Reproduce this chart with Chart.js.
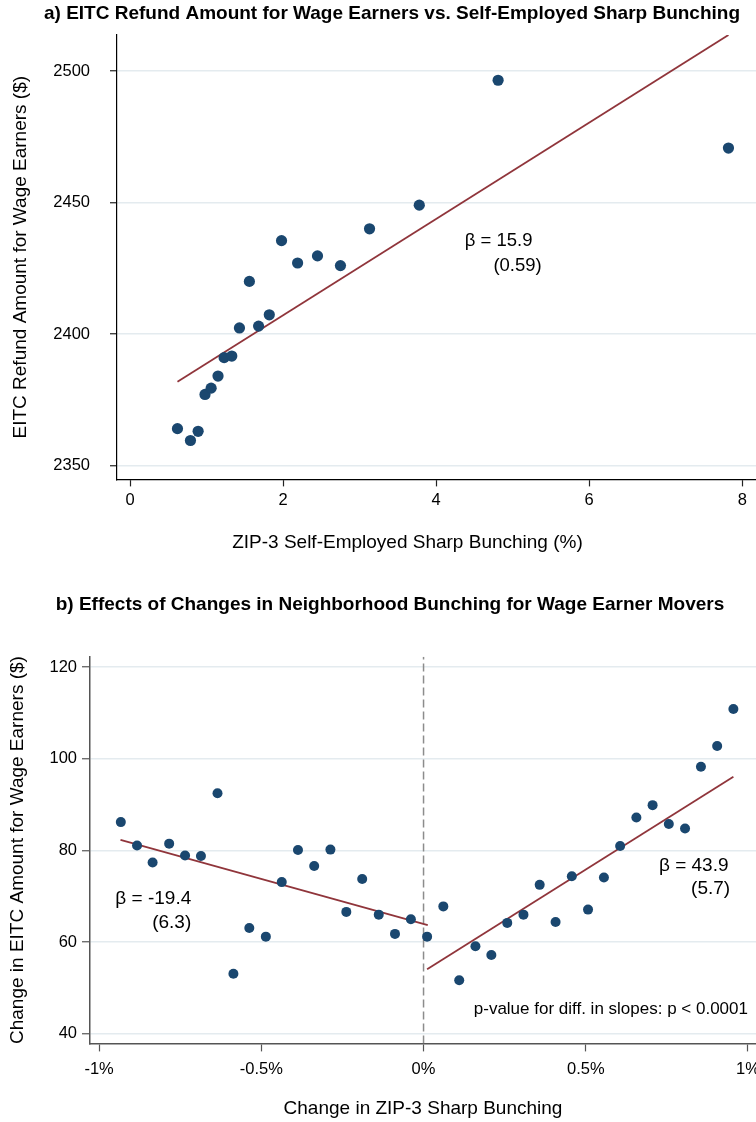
<!DOCTYPE html>
<html>
<head>
<meta charset="utf-8">
<script src="https://cdn.jsdelivr.net/npm/chart.js@4.4.0/dist/chart.umd.min.js"></script>
<style>
  body { margin: 0; background: #fff; width: 756px; height: 1122px; overflow: hidden; }
  .box { position: absolute; left: 0; width: 756px; }
  #boxA { top: 0; height: 568px; }
  #boxB { top: 588px; height: 534px; }
</style>
</head>
<body>
<div class="box" id="boxA"><canvas id="chartA"></canvas></div>
<div class="box" id="boxB"><canvas id="chartB"></canvas></div>
<script>
// Panel a: binned scatter
const bunchingA = [0.62, 0.79, 0.89, 0.98, 1.06, 1.15, 1.23, 1.33, 1.43, 1.56, 1.68, 1.82, 1.98, 2.19, 2.45, 2.75, 3.13, 3.78, 4.81, 7.82];
const refundA = [2364, 2359.5, 2363, 2377, 2379.4, 2384, 2391, 2391.6, 2402.3, 2420, 2403, 2407.3, 2435.5, 2427, 2429.7, 2426, 2440, 2449, 2496.5, 2470.7];
const fitAx = [0.62, 7.82];
const fitAy = [2381.8, 2513.7];
const xTicksA = [0, 2, 4, 6, 8];
const yTicksA = [2350, 2400, 2450, 2500];

// Panel b: movers, left and right of zero
const changeLeft = [-0.933, -0.883, -0.835, -0.784, -0.735, -0.686, -0.635, -0.586, -0.537, -0.486, -0.437, -0.387, -0.337, -0.287, -0.238, -0.189, -0.138, -0.088, -0.039];
const amountLeft = [86.2, 81.1, 77.4, 81.5, 78.9, 78.8, 92.5, 53.1, 63.1, 61.2, 73.1, 80.1, 76.6, 80.2, 66.6, 73.8, 66.0, 61.8, 65.0];
const changeRight = [0.011, 0.061, 0.110, 0.160, 0.209, 0.258, 0.308, 0.358, 0.407, 0.457, 0.507, 0.556, 0.606, 0.656, 0.706, 0.756, 0.806, 0.855, 0.905, 0.955];
const amountRight = [61.2, 67.8, 51.7, 59.1, 57.2, 64.2, 66.0, 72.5, 64.4, 74.4, 67.1, 74.1, 81.0, 87.2, 89.9, 85.8, 84.8, 98.3, 102.8, 110.9];
const fitLeftX = [-0.934, 0.013];
const fitLeftY = [82.3, 63.7];
const fitRightX = [0.011, 0.955];
const fitRightY = [54.1, 96.1];
const xTicksB = [-1, -0.5, 0, 0.5, 1];
const yTicksB = [40, 60, 80, 100, 120];

const navy = '#1a476f';
const maroon = '#90353b';
const gridLight = '#e4ebef';
const FONT = '"Liberation Sans", Arial, sans-serif';

Chart.defaults.font.family = FONT;
Chart.defaults.color = '#000';

function pairs(xs, ys) {
    return xs.map((x, i) => ({ x: x, y: ys[i] }));
}

function fixedTicks(values) {
    return function(scale) {
        scale.ticks = values.map(v => ({ value: v }));
    };
}

// Text notes placed in data coordinates
const notesPlugin = {
    id: 'notes',
    afterDatasetsDraw(chart, args, opts) {
        const ctx = chart.ctx;
        const xs = chart.scales.x, ys = chart.scales.y;
        ctx.save();
        (opts.items || []).forEach(n => {
            ctx.font = (n.size || 18.5) + 'px ' + FONT;
            ctx.fillStyle = '#000';
            ctx.textAlign = n.align || 'right';
            ctx.textBaseline = 'middle';
            ctx.fillText(n.text, xs.getPixelForValue(n.x), ys.getPixelForValue(n.y));
        });
        ctx.restore();
    }
};

// Chart A
new Chart(document.getElementById('chartA'), {
    type: 'scatter',
    data: {
        datasets: [{
            data: pairs(bunchingA, refundA),
            backgroundColor: navy,
            borderWidth: 0,
            pointRadius: 5.6
        }, {
            type: 'line',
            data: pairs(fitAx, fitAy),
            borderColor: maroon,
            borderWidth: 1.8,
            pointRadius: 0
        }]
    },
    options: {
        responsive: true,
        maintainAspectRatio: false,
        animation: false,
        layout: { autoPadding: false, padding: { left: 28, right: 0, top: 0, bottom: 13.6 } },
        plugins: {
            legend: { display: false },
            tooltip: { enabled: false },
            title: {
                display: true,
                text: 'a) EITC Refund Amount for Wage Earners vs. Self-Employed Sharp Bunching',
                font: { size: 19, weight: 'bold' },
                color: '#000',
                padding: { top: 2.6, bottom: 9.6 }
            },
            notes: {
                items: [
                    { x: 5.26, y: 2435.3, text: 'β = 15.9' },
                    { x: 5.38, y: 2426, text: '(0.59)' }
                ]
            }
        },
        scales: {
            x: {
                type: 'linear',
                min: -0.17,
                max: 8.18,
                afterBuildTicks: fixedTicks(xTicksA),
                afterFit(s) { s.height = 75; s.paddingLeft = 0; s.paddingRight = 0; },
                grid: { drawOnChartArea: false, tickLength: 7, tickColor: '#222', tickWidth: 1.2 },
                border: { color: '#000', width: 1.2 },
                ticks: { font: { size: 16.5 }, padding: 4 },
                title: {
                    display: true,
                    // trailing spaces pull the centred title left, as in the original
                    text: 'ZIP-3 Self-Employed Sharp Bunching (%)' + '\u00a0'.repeat(11),
                    font: { size: 19 },
                    padding: { bottom: 0 }
                }
            },
            y: {
                type: 'linear',
                min: 2344.7,
                max: 2513.7,
                afterBuildTicks: fixedTicks(yTicksA),
                afterFit(s) { s.width = 89; },
                grid: { color: gridLight, lineWidth: 1.5, tickLength: 7, tickColor: '#222', tickWidth: 1.2 },
                border: { color: '#000', width: 1.2 },
                ticks: { font: { size: 16.5 }, padding: 20, callback: v => String(v) },
                title: { display: true, text: 'EITC Refund Amount for Wage Earners ($)', font: { size: 19 }, padding: { top: -18.5 } }
            }
        }
    },
    plugins: [notesPlugin]
});

// Chart B
new Chart(document.getElementById('chartB'), {
    type: 'scatter',
    data: {
        datasets: [{
            data: pairs(changeLeft, amountLeft).concat(pairs(changeRight, amountRight)),
            backgroundColor: navy,
            borderWidth: 0,
            pointRadius: 5
        }, {
            type: 'line',
            data: pairs(fitLeftX, fitLeftY),
            borderColor: maroon,
            borderWidth: 1.8,
            pointRadius: 0
        }, {
            type: 'line',
            data: pairs(fitRightX, fitRightY),
            borderColor: maroon,
            borderWidth: 1.8,
            pointRadius: 0
        }, {
            type: 'line',
            data: [{ x: 0, y: 37.9 }, { x: 0, y: 122.3 }],
            borderColor: '#8c8c8c',
            borderWidth: 1.5,
            borderDash: [8, 4],
            pointRadius: 0,
            order: 5
        }]
    },
    options: {
        responsive: true,
        maintainAspectRatio: false,
        animation: false,
        layout: { autoPadding: false, padding: { left: 24, right: 0, top: 0, bottom: 1.6 } },
        plugins: {
            legend: { display: false },
            tooltip: { enabled: false },
            title: {
                display: true,
                text: 'b) Effects of Changes in Neighborhood Bunching for Wage Earner Movers',
                font: { size: 19, weight: 'bold' },
                color: '#000',
                padding: { top: 5.6, bottom: 40.3 }
            },
            notes: {
                items: [
                    { x: -0.716, y: 69.5, text: 'β = -19.4', size: 19 },
                    { x: -0.716, y: 64.3, text: '(6.3)', size: 19 },
                    { x: 0.94, y: 76.7, text: 'β = 43.9', size: 19 },
                    { x: 0.945, y: 71.6, text: '(5.7)', size: 19 },
                    { x: 1.0, y: 45.3, text: 'p-value for diff. in slopes: p < 0.0001', size: 17 }
                ]
            }
        },
        scales: {
            x: {
                type: 'linear',
                min: -1.028,
                max: 1.0247,
                afterBuildTicks: fixedTicks(xTicksB),
                afterFit(s) { s.height = 77; s.paddingLeft = 0; s.paddingRight = 0; },
                grid: { drawOnChartArea: false, tickLength: 8, tickColor: '#555', tickWidth: 1.2 },
                border: { color: '#555', width: 1.5 },
                ticks: { font: { size: 16.5 }, padding: 8, callback: v => v + '%' },
                title: { display: true, text: 'Change in ZIP-3 Sharp Bunching', font: { size: 19 }, padding: { bottom: 0 } }
            },
            y: {
                type: 'linear',
                min: 37.9,
                max: 122.3,
                afterBuildTicks: fixedTicks(yTicksB),
                afterFit(s) { s.width = 66; },
                grid: { color: gridLight, lineWidth: 1.5, tickLength: 8, tickColor: '#555', tickWidth: 1.2 },
                border: { color: '#555', width: 1.5 },
                ticks: { font: { size: 16.5 }, padding: 5 },
                title: { display: true, text: 'Change in EITC Amount for Wage Earners ($)', font: { size: 19 }, padding: { top: -18 } }
            }
        }
    },
    plugins: [notesPlugin]
});
</script>
</body>
</html>
